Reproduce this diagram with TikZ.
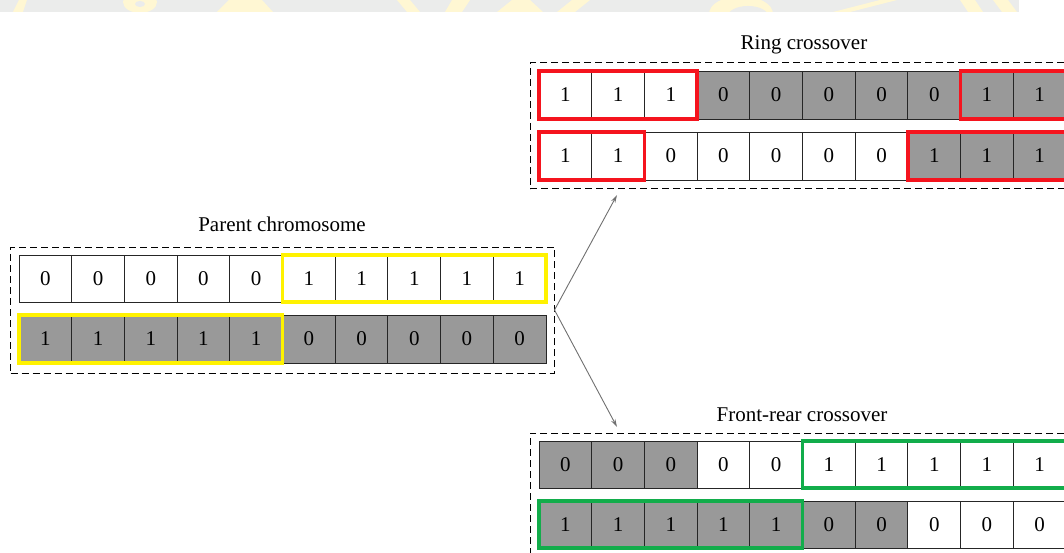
\documentclass[tikz,border=0pt]{standalone}
\usepackage{fontspec}
\setmainfont{Liberation Serif}
\usetikzlibrary{arrows.meta}

\definecolor{cellgray}{HTML}{999999}
\definecolor{cellline}{HTML}{262626}
\definecolor{hlyellow}{HTML}{FFF200}
\definecolor{hlred}{HTML}{F5141E}
\definecolor{hlgreen}{HTML}{12AD4B}
\definecolor{connline}{HTML}{707070}
\definecolor{bandgray}{HTML}{EBECEB}
\definecolor{bandyellow}{HTML}{FFF7D3}

\tikzset{
  cell/.style={draw=cellline, line width=0.9pt, minimum width=52.7pt,
    minimum height=#1, inner sep=0pt, outer sep=0pt, anchor=north west,
    font=\fontsize{21}{25}\selectfont},
  wc/.style={fill=white},
  gc/.style={fill=cellgray},
  hl/.style={draw=#1, line width=3.6pt},
  dashbox/.style={draw=black, line width=1pt, dash pattern=on 7pt off 4pt,
    anchor=north west, inner sep=0pt, outer sep=0pt},
  title/.style={anchor=base, inner sep=0pt, font=\fontsize{21}{25}\selectfont},
  conn/.style={draw=connline, line width=0.9pt,
    -{Stealth[length=8pt, width=4.5pt]}},
}

% one row of ten gene cells: name prefix, left x, top y, height, value/style list
\newcommand\generow[5]{%
  \foreach \v/\f [count=\i] in {#5} {
    \node[cell=#4, \f] (#1-\i) at ({#2+(\i-1)*52.7}, #3) {\v};
  }%
}

\begin{document}
\begin{tikzpicture}[x=1pt, y=-1pt]
\useasboundingbox (0,0) rectangle (1064,553);
\clip (0,0) rectangle (1064,553);

% page band along the top edge
\fill[bandgray] (0,0) rectangle (1019,11.7);
\begin{scope}
  \clip (0,0) rectangle (1019,11.7);
  \fill[bandyellow] (13,12) -- (19,0) -- (27,0) -- (23,12) -- cycle;
  \fill[bandyellow] (140,2) ellipse (17 and 11);
  \fill[bandgray] (140,4) ellipse (5 and 3);
  \fill[bandyellow] (217,12) -- (229,0) -- (262,0) -- (273,12) -- cycle;
  \fill[bandyellow] (397,0) -- (410,0) -- (420,12) -- (407,12) -- cycle;
  \fill[bandyellow] (452,0) -- (470,0) -- (462,12) -- (445,12) -- cycle;
  \fill[bandyellow] (497,12) -- (512,0) -- (530,0) -- (543,12) -- cycle;
  \fill[bandyellow] (557,12) -- (572,0) -- (590,0) -- (575,12) -- cycle;
  \fill[bandyellow] (741,14) ellipse (32 and 18);
  \fill[bandgray] (748,16) ellipse (20 and 10);
  \fill[bandyellow] (833,12) -- (880,0) -- (897,0) -- (850,12) -- cycle;
  \fill[bandyellow] (960,0) -- (975,0) -- (983,12) -- (968,12) -- cycle;
  \fill[bandyellow] (993,0) -- (1008,0) -- (1017,12) -- (1002,12) -- cycle;
\end{scope}

% group frames
\node[dashbox, minimum width=544pt, minimum height=126pt] (parent) at (10.5,247) {};
\node[dashbox, minimum width=545pt, minimum height=126pt] (ring) at (530,63) {};
\node[dashbox, minimum width=545pt, minimum height=126pt] (front) at (530,433) {};

% titles
\node[title] (tparent) at (282,232) {Parent chromosome};
\node[title] (tring) at (804,50) {Ring crossover};
\node[title] (tfront) at (802,421.7) {Front-rear crossover};

% parent chromosomes
\generow{p1}{19}{255}{47pt}{0/wc,0/wc,0/wc,0/wc,0/wc,1/wc,1/wc,1/wc,1/wc,1/wc}
\generow{p2}{19}{315}{48pt}{1/gc,1/gc,1/gc,1/gc,1/gc,0/gc,0/gc,0/gc,0/gc,0/gc}

% ring crossover offspring
\generow{r1}{539}{71}{48pt}{1/wc,1/wc,1/wc,0/gc,0/gc,0/gc,0/gc,0/gc,1/gc,1/gc}
\generow{r2}{539}{132}{48pt}{1/wc,1/wc,0/wc,0/wc,0/wc,0/wc,0/wc,1/gc,1/gc,1/gc}

% front-rear crossover offspring
\generow{f1}{539}{441}{47pt}{0/gc,0/gc,0/gc,0/wc,0/wc,1/wc,1/wc,1/wc,1/wc,1/wc}
\generow{f2}{539}{501}{47pt}{1/gc,1/gc,1/gc,1/gc,1/gc,0/gc,0/gc,0/wc,0/wc,0/wc}

% exchanged segments
\draw[hl=hlyellow] (p1-6.north west) rectangle (p1-10.south east);
\draw[hl=hlyellow] (p2-1.north west) rectangle (p2-5.south east);

\draw[hl=hlred] (r1-1.north west) rectangle (r1-3.south east);
\draw[hl=hlred] (r1-9.north west) rectangle (r1-10.south east);
\draw[hl=hlred] (r2-1.north west) rectangle (r2-2.south east);
\draw[hl=hlred] (r2-8.north west) rectangle (r2-10.south east);

\draw[hl=hlgreen] (f1-6.north west) rectangle (f1-10.south east);
\draw[hl=hlgreen] (f2-1.north west) rectangle (f2-5.south east);

% operator arrows
\coordinate (ringin) at (617,195);
\coordinate (frontin) at (617,427);
\draw[conn] (parent.east) -- (ringin);
\draw[conn] (parent.east) -- (frontin);
\end{tikzpicture}
\end{document}
